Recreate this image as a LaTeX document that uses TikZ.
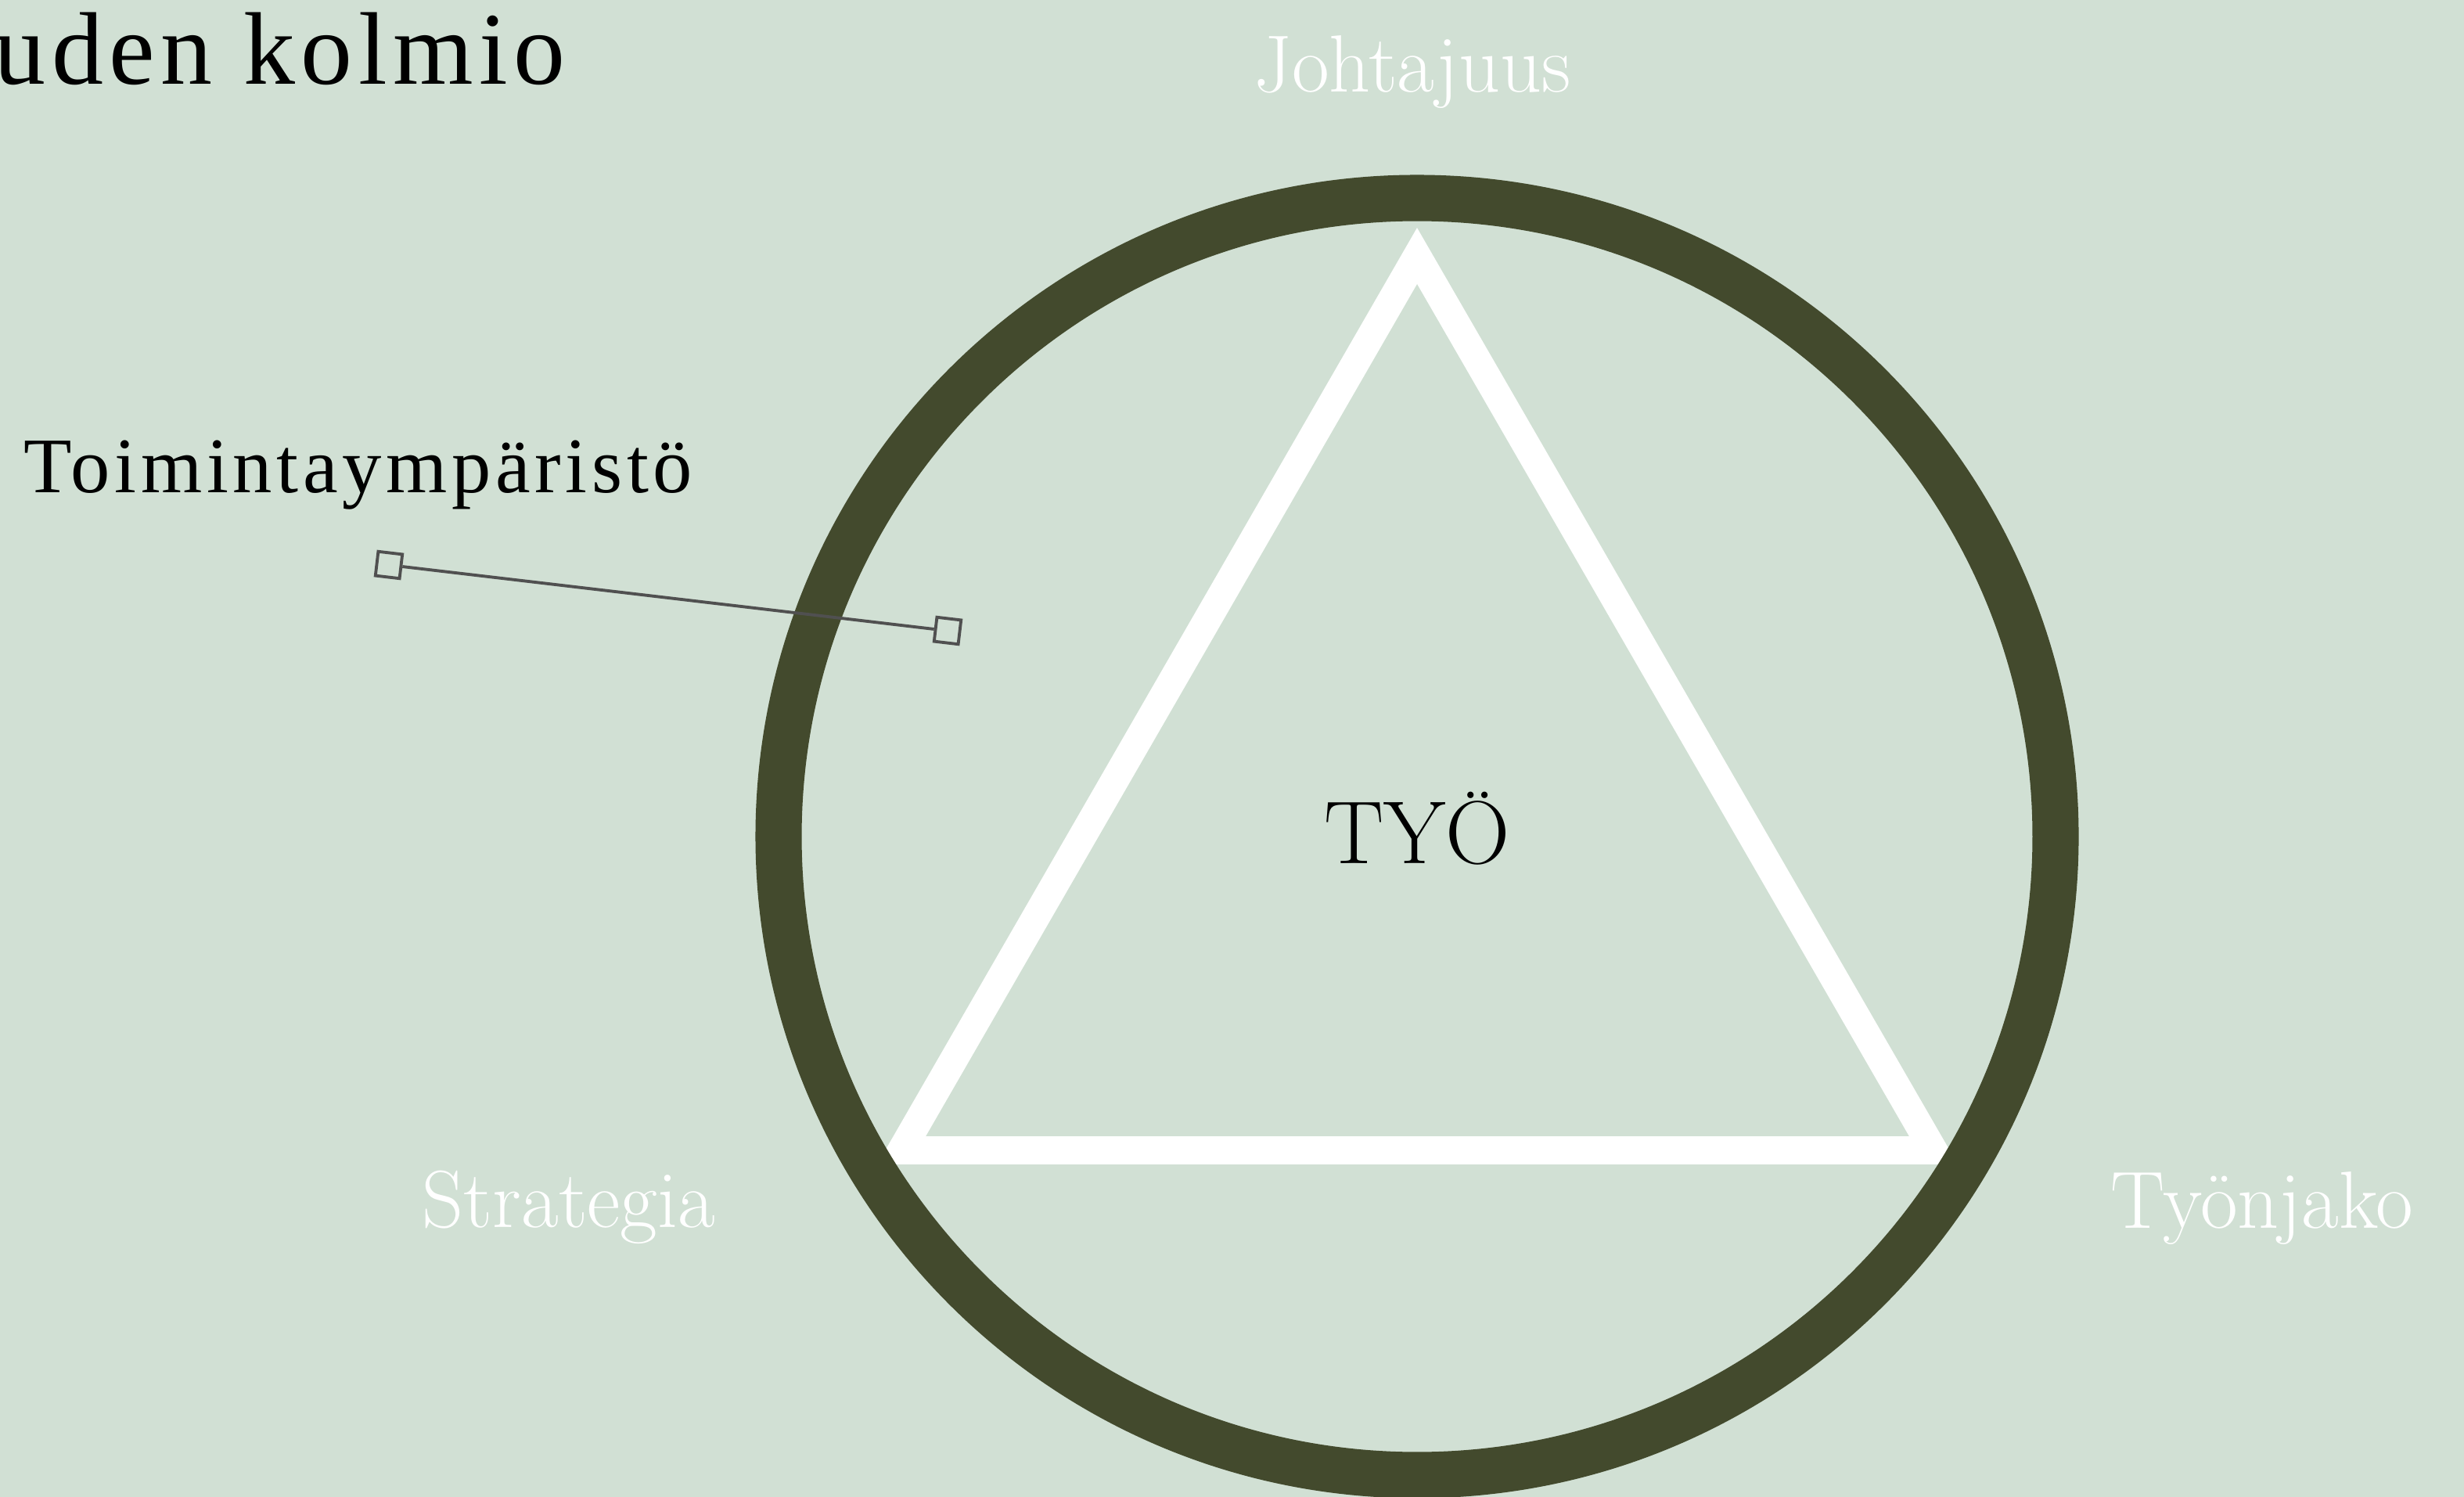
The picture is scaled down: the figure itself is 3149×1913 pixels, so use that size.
\documentclass[tikz,border=0pt]{standalone}
\usepackage{fontspec}
\newfontfamily\timesfont[LetterSpace=5.6]{Liberation Serif}
\usetikzlibrary{positioning}
\definecolor{bgsage}{HTML}{D1E0D4}
\definecolor{ringolive}{HTML}{434A2D}
\definecolor{handlegrey}{HTML}{505050}

\begin{document}
\begin{tikzpicture}[
  x=0.01cm, y=-0.01cm,
  ring/.style={draw=ringolive,line width=16.8pt},
  tri/.style={draw=white,line width=10.2pt,line join=miter},
  corner/.style={font=\fontsize{29.5}{32}\selectfont,text=white,
                 inner sep=0pt,anchor=base},
  blacklbl/.style={inner sep=0pt,text=black},
  handle/.style={draw=handlegrey,line width=1.1pt,minimum size=0.31cm,
                 inner sep=0pt,rotate=-6.7},
  link/.style={draw=handlegrey,line width=1.1pt}
]
\useasboundingbox (0,0) rectangle (3149,1913);
\fill[bgsage] (0,0) rectangle (3149,1913);
\clip (0,0) rectangle (3149,1913);

% title, cut off at the left edge
\node[blacklbl,anchor=base east,font=\timesfont\fontsize{37.5}{42}\selectfont]
  (title) at (723,108) {uden kolmio};

% triangle first, the ring goes over its lower corners
\coordinate (ctr)  at (1811,1069);
\coordinate (apex) at (1811,327);
\coordinate (bl)   at (1152,1470);
\coordinate (br)   at (2471,1470);
\draw[tri] (apex) -- (bl) -- (br) -- cycle;
\draw[ring] (ctr) circle[radius=816];

\node[corner] (lead)  at (1805,118)  {Johtajuus};
\node[corner] (strat) at (727,1568)  {Strategia};
\node[corner] (divis) at (2891,1569) {Työnjako};
\node[blacklbl,anchor=base,font=\fontsize{32.5}{36}\selectfont]
  (work) at (1811,1103) {TYÖ};

\node[blacklbl,anchor=base west,font=\timesfont\fontsize{28.6}{32}\selectfont]
  (env) at (30,630) {Toimintaympäristö};
\node[handle] (hA) at (497,722) {};
\node[handle] (hB) at (1211,806) {};
\draw[link] (hA) -- (hB);
\end{tikzpicture}
\end{document}
